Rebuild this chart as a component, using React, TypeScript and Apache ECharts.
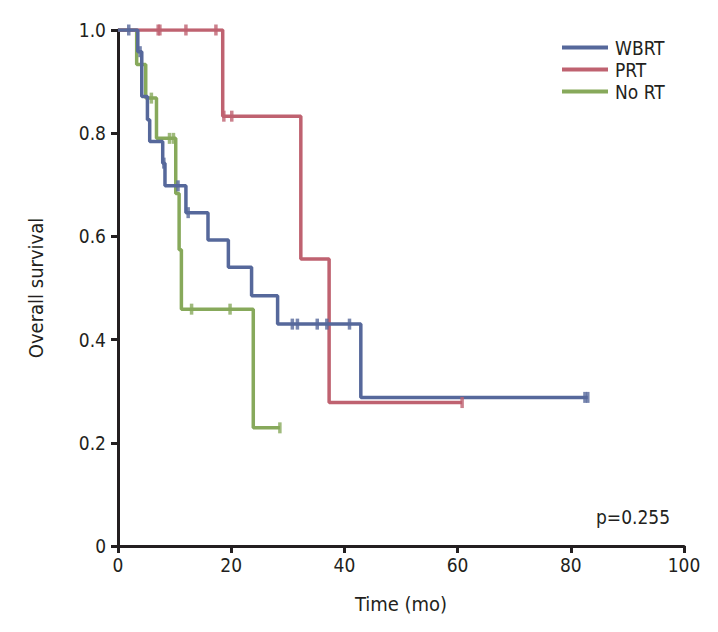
import React, { useEffect, useRef } from "react";
import * as echarts from "echarts";

// Kaplan-Meier step points: [time (mo), survival after event]
const wbrtTimes = [0, 3.5, 4.2, 5.2, 5.6, 7.9, 8.3, 12.0, 15.9, 19.5, 23.6, 28.2, 42.9, 83.0];
const wbrtSurv = [1.0, 0.958, 0.871, 0.826, 0.784, 0.742, 0.698, 0.646, 0.593, 0.54, 0.485, 0.43, 0.288, 0.288];
const wbrtCensor = [1.9, 3.9, 8.1, 10.6, 12.4, 30.8, 31.7, 35.2, 36.9, 40.9, 82.5, 83.0];

const prtTimes = [0, 18.5, 32.3, 37.3, 60.8];
const prtSurv = [1.0, 0.833, 0.556, 0.278, 0.278];
const prtCensor = [7.1, 7.4, 12.0, 17.3, 18.7, 20.1, 60.8];

const nortTimes = [0, 3.3, 4.9, 6.8, 10.2, 10.8, 11.2, 23.9, 28.6];
const nortSurv = [1.0, 0.933, 0.868, 0.79, 0.683, 0.574, 0.459, 0.229, 0.229];
const nortCensor = [5.9, 9.1, 9.8, 13.0, 19.8, 28.6];

const groupNames = ["WBRT", "PRT", "No RT"];
const xTicks = [0, 20, 40, 60, 80, 100];
const yTicks = [0, 0.2, 0.4, 0.6, 0.8, 1.0];
const pValueText = "p=0.255";

const COLORS = ["#56689b", "#bf6270", "#87a95b"];
const FONT = "'Liberation Sans Narrow', 'DejaVu Sans Condensed', 'Roboto', sans-serif";
const INK = "#231f20";

function survAt(times: number[], surv: number[], t: number): number {
  let s = surv[0];
  for (let i = 0; i < times.length; i++) {
    if (times[i] <= t) s = surv[i];
  }
  return s;
}

export default function App() {
  const ref = useRef<HTMLDivElement>(null);
  useEffect(() => {
    document.body.style.margin = "0";
    if (!ref.current) return;
    const chart = echarts.init(ref.current, undefined, { renderer: "svg" });
    const groups = [
      { times: wbrtTimes, surv: wbrtSurv, censor: wbrtCensor },
      { times: prtTimes, surv: prtSurv, censor: prtCensor },
      { times: nortTimes, surv: nortSurv, censor: nortCensor },
    ];
    const series: any[] = [];
    groups.forEach((g, i) => {
      series.push({
        name: groupNames[i],
        type: "line",
        step: "end",
        data: g.times.map((t, k) => [t, g.surv[k]]),
        showSymbol: false,
        symbol: "none",
        lineStyle: { color: COLORS[i], width: 3.5 },
        itemStyle: { color: COLORS[i] },
        z: 3 - i,
      });
      series.push({
        name: groupNames[i] + " censored",
        type: "scatter",
        data: g.censor.map((t) => [t, survAt(g.times, g.surv, t)]),
        symbol: "rect",
        symbolSize: [3.5, 11],
        itemStyle: { color: COLORS[i] },
        z: 4 - i,
      });
    });
    chart.setOption({
      animation: false,
      backgroundColor: "#ffffff",
      grid: { left: 118, right: 34, top: 30, bottom: 86, containLabel: false, outerBoundsMode: "none" },
      legend: {
        data: groupNames,
        orient: "vertical",
        left: 557,
        top: 32,
        icon: "rect",
        itemWidth: 46,
        itemHeight: 4,
        itemGap: 1,
        textStyle: { fontFamily: FONT, fontSize: 19, lineHeight: 21, color: INK, padding: [0, 0, 0, 2] },
      },
      xAxis: {
        type: "value",
        min: xTicks[0],
        max: xTicks[xTicks.length - 1],
        interval: 20,
        name: "Time (mo)",
        nameLocation: "middle",
        nameGap: 48,
        nameTextStyle: { fontFamily: FONT, fontSize: 20, color: INK },
        axisLine: { show: true, lineStyle: { color: INK, width: 3 } },
        axisTick: { show: true, length: 7, lineStyle: { color: INK, width: 3 } },
        axisLabel: { fontFamily: FONT, fontSize: 19, color: INK, margin: 9 },
        splitLine: { show: false },
      },
      yAxis: {
        type: "value",
        min: yTicks[0],
        max: yTicks[yTicks.length - 1],
        interval: 0.2,
        name: "Overall survival",
        nameLocation: "middle",
        nameGap: 72,
        nameTextStyle: { fontFamily: FONT, fontSize: 20, color: INK },
        axisLine: { show: true, lineStyle: { color: INK, width: 3 } },
        axisTick: { show: true, length: 7, lineStyle: { color: INK, width: 3 } },
        axisLabel: {
          fontFamily: FONT,
          fontSize: 19,
          color: INK,
          margin: 12,
          formatter: (v: number) => (v === 0 ? "0" : v.toFixed(1)),
        },
        splitLine: { show: false },
      },
      graphic: [
        {
          type: "text",
          left: 596,
          top: 507,
          style: { text: pValueText, fontFamily: FONT, fontSize: 19, fill: INK },
        },
      ],
      series,
    });
    return () => chart.dispose();
  }, []);
  return <div ref={ref} style={{ width: 718, height: 632 }} />;
}
